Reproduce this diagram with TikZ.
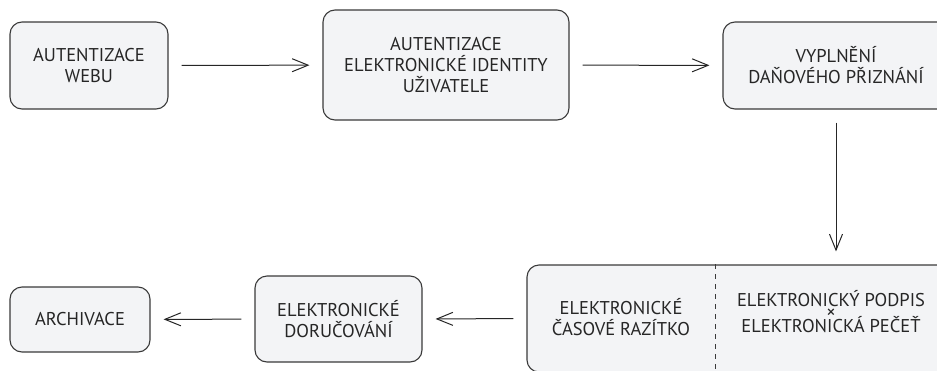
\documentclass[tikz,border=0pt]{standalone}
\usepackage{fontspec}
\setmainfont{PT Sans}
\usepackage{tikz}
\usetikzlibrary{arrows.meta}

\definecolor{boxfill}{HTML}{F3F4F6}
\definecolor{boxline}{HTML}{3A3A3A}

\tikzset{
  stage/.style={draw=boxline,fill=boxfill,line width=1.1pt,rounded corners=12pt,
    align=center,font=\fontsize{18.5}{21}\selectfont,text=black!85},
  label/.style={align=center,font=\fontsize{18.5}{21}\selectfont,text=black!85},
  flow/.style={draw=black!85,line width=1pt,-{Straight Barb[length=16pt,width=13pt,line width=1pt]},
    shorten <=13pt,shorten >=13pt},
}

\begin{document}
\begin{tikzpicture}[x=1pt,y=-1pt]
  \clip (0,0) rectangle (937,370);
  % upper row
  \node[stage,minimum width=158pt,minimum height=87pt](web)at(89,65.5){AUTENTIZACE\\WEBU};
  \node[stage,minimum width=246pt,minimum height=110pt](eid)at(446,65){AUTENTIZACE\\ELEKTRONICKÉ IDENTITY\\UŽIVATELE};
  \node[stage,minimum width=226pt,minimum height=87pt](tax)at(836,65.5){VYPLNĚNÍ\\DAŇOVÉHO PŘIZNÁNÍ};
  % lower row
  \node[stage,minimum width=618pt,minimum height=107pt](sign)at(836,318.5){};
  \draw[boxline,line width=1pt,dash pattern=on 5pt off 5pt](sign.north -| 715,0)--(sign.south -| 715,0);
  \node[label](tsa)at(621,317){ELEKTRONICKÉ\\ČASOVÉ RAZÍTKO};
  \node[label](sig)at(831,312){ELEKTRONICKÝ PODPIS\\[-9.5pt]×\\[-6.5pt]ELEKTRONICKÁ PEČEŤ};
  \node[stage,minimum width=167pt,minimum height=86pt](dor)at(338.5,319){ELEKTRONICKÉ\\DORUČOVÁNÍ};
  \node[stage,minimum width=140pt,minimum height=65pt](arch)at(80,319.5){ARCHIVACE};
  % connectors
  \draw[flow](web)--(eid);
  \draw[flow](eid)--(tax);
  \draw[flow](tax)--(sign);
  \draw[flow](sign.west)--(dor.east);
  \draw[flow](dor)--(arch);
\end{tikzpicture}
\end{document}
